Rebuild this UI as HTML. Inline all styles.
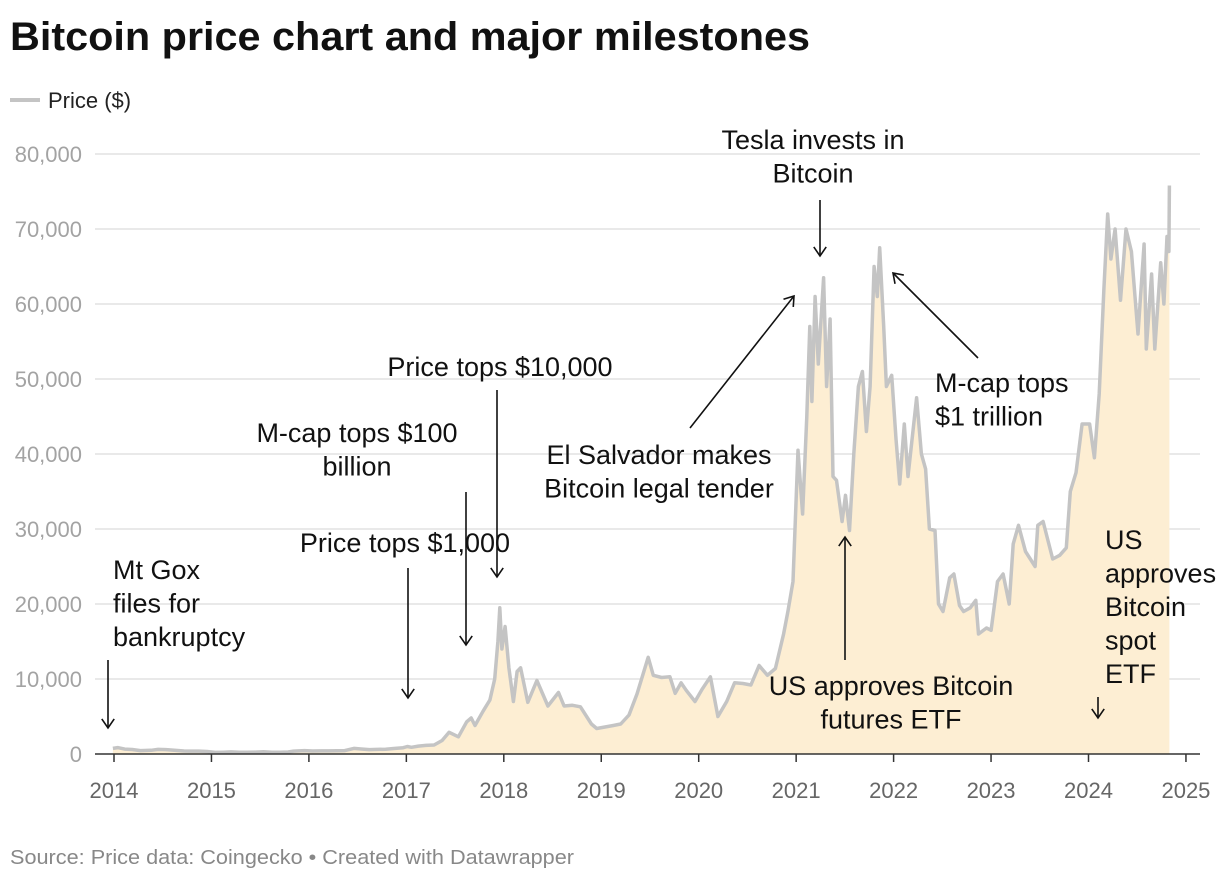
<!DOCTYPE html>
<html><head><meta charset="utf-8"><style>
body{margin:0;background:#fff;font-family:"Liberation Sans",sans-serif}
svg text{font-family:"Liberation Sans",sans-serif}
</style></head><body>
<svg id="chart" width="1220" height="880" viewBox="0 0 1220 880" xmlns="http://www.w3.org/2000/svg">
<text x="10" y="50" font-size="40" font-weight="bold" fill="#111" textLength="800" lengthAdjust="spacingAndGlyphs">Bitcoin price chart and major milestones</text>
<g>
<line x1="10" y1="100" x2="40" y2="100" stroke="#c4c4c4" stroke-width="4"/>
<text x="48" y="108" font-size="22" fill="#222">Price ($)</text>
</g>
<g id="grid"></g>
<g id="series"></g>
<g id="xaxis"></g>
<g id="ann" font-size="27" fill="#111"></g>
<text x="10" y="864" font-size="20" fill="#888" textLength="564" lengthAdjust="spacingAndGlyphs">Source: Price data: Coingecko • Created with Datawrapper</text>
</svg>
<script>
const dates=["2013-12-28","2014-01-15","2014-02-10","2014-03-10","2014-04-10","2014-05-20","2014-06-15","2014-07-15","2014-08-15","2014-09-20","2014-10-15","2014-11-15","2014-12-15",
"2015-01-15","2015-02-15","2015-03-15","2015-04-15","2015-05-15","2015-06-15","2015-07-15","2015-08-15","2015-09-15","2015-10-15","2015-11-05","2015-12-15",
"2016-01-15","2016-02-15","2016-03-15","2016-04-15","2016-05-15","2016-06-18","2016-07-15","2016-08-15","2016-09-15","2016-10-15","2016-11-15","2016-12-20",
"2017-01-05","2017-01-20","2017-02-15","2017-03-15","2017-04-15","2017-05-15","2017-06-10","2017-07-15","2017-08-15","2017-09-01","2017-09-15","2017-10-15","2017-11-10","2017-11-28","2017-12-10","2017-12-17","2017-12-25",
"2018-01-06","2018-01-20","2018-02-06","2018-02-20","2018-03-05","2018-04-01","2018-05-05","2018-06-15","2018-07-25","2018-08-15","2018-09-15","2018-10-15","2018-11-25","2018-12-15",
"2019-01-15","2019-02-15","2019-03-15","2019-04-15","2019-05-15","2019-06-26","2019-07-15","2019-08-15","2019-09-15","2019-10-05","2019-10-27","2019-11-15","2019-12-18",
"2020-01-15","2020-02-14","2020-03-13","2020-04-15","2020-05-15","2020-06-15","2020-07-15","2020-08-15","2020-09-15","2020-10-15","2020-11-15","2020-12-01","2020-12-20",
"2021-01-08","2021-01-25","2021-02-10","2021-02-21","2021-03-01","2021-03-13","2021-03-25","2021-04-14","2021-04-25","2021-05-08","2021-05-19","2021-06-01","2021-06-22","2021-07-05","2021-07-20","2021-08-05","2021-08-22","2021-09-06","2021-09-21","2021-10-05","2021-10-20","2021-11-01","2021-11-10","2021-11-25","2021-12-05","2021-12-25",
"2022-01-10","2022-01-24","2022-02-10","2022-02-24","2022-03-28","2022-04-15","2022-05-01","2022-05-15","2022-06-05","2022-06-18","2022-07-05","2022-07-30","2022-08-15","2022-09-05","2022-09-20","2022-10-15","2022-11-05","2022-11-15","2022-12-15",
"2023-01-01","2023-01-25","2023-02-15","2023-03-10","2023-03-25","2023-04-14","2023-05-10","2023-06-15","2023-06-25","2023-07-15","2023-08-20","2023-09-15","2023-10-10","2023-10-25","2023-11-15","2023-12-08",
"2024-01-05","2024-01-23","2024-02-10","2024-02-28","2024-03-13","2024-03-25","2024-04-10","2024-04-30","2024-05-21","2024-06-10","2024-07-05","2024-07-28","2024-08-05","2024-08-25","2024-09-06","2024-09-28","2024-10-10","2024-10-22","2024-10-29","2024-10-31"];
const prices=[750,850,650,600,450,500,620,590,500,400,380,380,330,
210,240,280,230,240,250,290,230,230,270,380,450,
400,420,415,430,450,750,660,580,610,640,740,840,
1000,890,1050,1150,1200,1800,2900,2300,4300,4800,3800,5700,7200,10000,15000,19500,14000,
17000,11500,7000,11000,11500,6900,9800,6400,8200,6400,6500,6300,4000,3400,
3600,3800,4000,5200,8000,12900,10500,10200,10300,8100,9500,8500,7000,
8700,10300,5000,7000,9500,9400,9200,11800,10500,11400,16000,19000,23000,
40500,32000,45000,57000,47000,61000,52000,63500,49000,58000,37000,36500,31000,34500,29800,40000,49000,51000,43000,49000,65000,61000,67500,57000,49000,50500,
42000,36000,44000,37000,47500,40000,38000,30000,29800,20000,19000,23500,24000,19800,19000,19500,20500,16000,16800,
16500,23000,24000,20000,28000,30500,27000,25000,30500,31000,26000,26500,27500,35000,37500,44000,
44000,39500,48000,62000,72000,66000,70000,60500,70000,67000,56000,68000,54000,64000,54000,65500,60000,69000,67000,75800];
const yTicks=[0,10000,20000,30000,40000,50000,60000,70000,80000];
const xYears=[2014,2015,2016,2017,2018,2019,2020,2021,2022,2023,2024,2025];

const NS="http://www.w3.org/2000/svg";
function tOf(s){const d=new Date(s+"T00:00:00Z");const y=d.getUTCFullYear();const st=Date.UTC(y,0,1),en=Date.UTC(y+1,0,1);return y+(d-st)/(en-st);}
function xS(t){return 114+(t-2014)*97.45;}
function yS(v){return 754-v*0.0075;}
function mk(tag,attrs,parent){const e=document.createElementNS(NS,tag);for(const k in attrs)e.setAttribute(k,attrs[k]);parent.appendChild(e);return e;}
const grid=document.getElementById("grid");
yTicks.forEach(v=>{
  if(v>0){const l=mk("line",{x1:95,x2:1200,y1:yS(v),y2:yS(v),stroke:"#e2e2e2","stroke-width":1.5},grid);
  
  }
  const t=mk("text",{x:82,y:yS(v)+8,"text-anchor":"end","font-size":22,fill:"#a3a3a3"},grid);
  
  
  t.textContent=v.toLocaleString("en-US");
});
const ser=document.getElementById("series");
const n=Math.min(dates.length,prices.length);
const pts=[];
for(let i=0;i<n;i++)pts.push([xS(tOf(dates[i])),yS(prices[i])]);
const lineD="M"+pts.map(p=>p[0].toFixed(1)+","+p[1].toFixed(1)).join("L");
const area=mk("path",{d:lineD+"L"+pts[pts.length-1][0].toFixed(1)+",754L"+pts[0][0].toFixed(1)+",754Z",fill:"#fdeed3"},ser);


const line=mk("path",{d:lineD,fill:"none",stroke:"#c4c4c4","stroke-width":3.5,"stroke-linejoin":"round"},ser);


const xa=document.getElementById("xaxis");
const ax=mk("line",{x1:95,x2:1200,y1:754,y2:754,stroke:"#333","stroke-width":1.5},xa);


xYears.forEach(y=>{
  const x=xS(y);
  const tk=mk("line",{x1:x,x2:x,y1:754,y2:762,stroke:"#333","stroke-width":1.5},xa);
  
  
  const t=mk("text",{x:x,y:798,"text-anchor":"middle","font-size":22,fill:"#666"},xa);
  
  
  t.textContent=y;
});
const ann=document.getElementById("ann");
function label(lines,x,y0,anchor,name){
  const t=mk("text",{x:x,"text-anchor":anchor},ann);
  
  
  lines.forEach((s,i)=>{const sp=mk("tspan",{x:x,y:y0+i*33.5+9},t);sp.textContent=s;});
}
function arrow(x1,y1,x2,y2,name){
  const g=mk("g",{stroke:"#111","stroke-width":1.6,fill:"none"},ann);
  
  
  mk("line",{x1,y1,x2,y2},g);
  const a=Math.atan2(y2-y1,x2-x1),L=11,s=0.6;
  mk("polyline",{points:`${x2-L*Math.cos(a-s)},${y2-L*Math.sin(a-s)} ${x2},${y2} ${x2-L*Math.cos(a+s)},${y2-L*Math.sin(a+s)}`},g);
}
label(["Mt Gox","files for","bankruptcy"],113,570,"start","mt-gox-annotation");
arrow(108,660,108,728,"mt-gox-arrow");
label(["Price tops $1,000"],405,543,"middle","price-1000-annotation");
arrow(408,568,408,698,"price-1000-arrow");
label(["M-cap tops $100","billion"],357,433,"middle","mcap-100b-annotation");
arrow(466,492,466,645,"mcap-100b-arrow");
label(["Price tops $10,000"],500,367,"middle","price-10000-annotation");
arrow(497,390,497,577,"price-10000-arrow");
label(["El Salvador makes","Bitcoin legal tender"],659,455,"middle","el-salvador-annotation");
arrow(690,428,794,296,"el-salvador-arrow");
label(["Tesla invests in","Bitcoin"],813,140,"middle","tesla-annotation");
arrow(820,200,820,256,"tesla-arrow");
label(["M-cap tops","$1 trillion"],935,383,"start","mcap-1t-annotation");
arrow(978,358,893,273,"mcap-1t-arrow");
label(["US approves Bitcoin","futures ETF"],891,686,"middle","futures-etf-annotation");
arrow(845,660,845,537,"futures-etf-arrow");
label(["US","approves","Bitcoin","spot","ETF"],1105,540,"start","spot-etf-annotation");
arrow(1098,697,1098,718,"spot-etf-arrow");
</script>
</body></html>
